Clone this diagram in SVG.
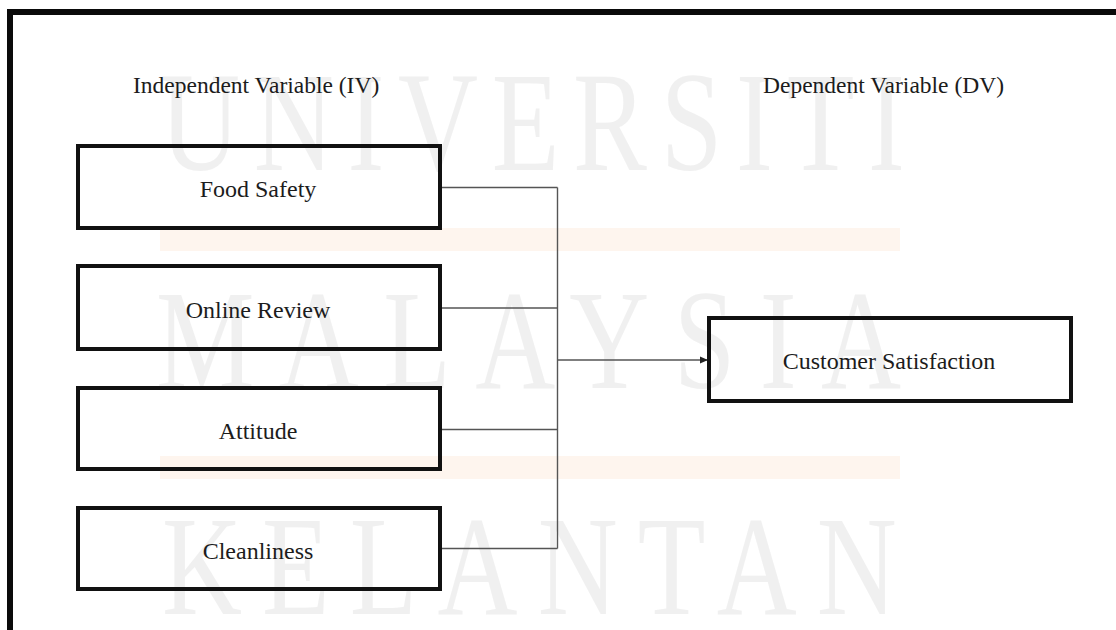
<svg xmlns="http://www.w3.org/2000/svg" width="1116" height="630" viewBox="0 0 1116 630">
  <defs>
    <style>
      .wm { font-family: "Liberation Serif", "Times New Roman", serif; font-size: 142px; fill: #e9e9e9; fill-opacity: 0.7; }
      .bar { fill: #fdeee2; fill-opacity: 0.6; }
      .box { fill: none; stroke: #111; stroke-width: 4; }
      .lbl { font-family: "Liberation Serif", "Times New Roman", serif; font-size: 24px; fill: #1c1c1c; text-anchor: middle; }
      .hdr { font-family: "Liberation Serif", "Times New Roman", serif; font-size: 23.5px; fill: #1c1c1c; }
      .conn { fill: none; stroke: #555; stroke-width: 1.4; }
    </style>
    <marker id="arrow" markerWidth="10" markerHeight="10" refX="9" refY="5" orient="auto" markerUnits="userSpaceOnUse">
      <path d="M1,1.5 L9,5 L1,8.5 Z" fill="#222"/>
    </marker>
  </defs>
  <rect x="0" y="0" width="1116" height="630" fill="#ffffff"/>

  <g id="watermark">
    <rect class="bar" x="160" y="228" width="740" height="23"/>
    <rect class="bar" x="160" y="456" width="740" height="23"/>
    <g transform="translate(160,0) scale(0.78,1)">
      <text class="wm" x="0" y="170" textLength="955" lengthAdjust="spacing">UNIVERSITI</text>
    </g>
    <g transform="translate(156,0) scale(0.78,1)">
      <text class="wm" x="0" y="388" textLength="955" lengthAdjust="spacing">MALAYSIA</text>
    </g>
    <g transform="translate(162,0) scale(0.78,1)">
      <text class="wm" x="0" y="614" textLength="942" lengthAdjust="spacing">KELANTAN</text>
    </g>
  </g>

  <g id="frame">
    <path d="M10,630 L10,12 L1116,12" fill="none" stroke="#0a0a0a" stroke-width="6"/>
  </g>

  <g id="headers">
    <text class="hdr" x="133" y="93">Independent Variable (IV)</text>
    <text class="hdr" x="763" y="93">Dependent Variable (DV)</text>
  </g>

  <g id="connectors">
    <path class="conn" d="M440,187.5 H557.5 M440,308 H557.5 M440,429.5 H557.5 M440,548.5 H557.5 M557.5,187.5 V548.5"/>
    <path class="conn" d="M557.5,360 H708" marker-end="url(#arrow)"/>
  </g>

  <g id="food-safety">
    <rect class="box" x="78" y="146" width="362" height="82"/>
    <text class="lbl" x="258" y="197">Food Safety</text>
  </g>
  <g id="online-review">
    <rect class="box" x="78" y="266" width="362" height="83"/>
    <text class="lbl" x="258" y="318">Online Review</text>
  </g>
  <g id="attitude">
    <rect class="box" x="78" y="388" width="362" height="81"/>
    <text class="lbl" x="258" y="439">Attitude</text>
  </g>
  <g id="cleanliness">
    <rect class="box" x="78" y="508" width="362" height="81"/>
    <text class="lbl" x="258" y="559">Cleanliness</text>
  </g>
  <g id="customer-satisfaction">
    <rect class="box" x="709" y="318" width="362" height="83"/>
    <text class="lbl" x="889" y="369">Customer Satisfaction</text>
  </g>
</svg>
